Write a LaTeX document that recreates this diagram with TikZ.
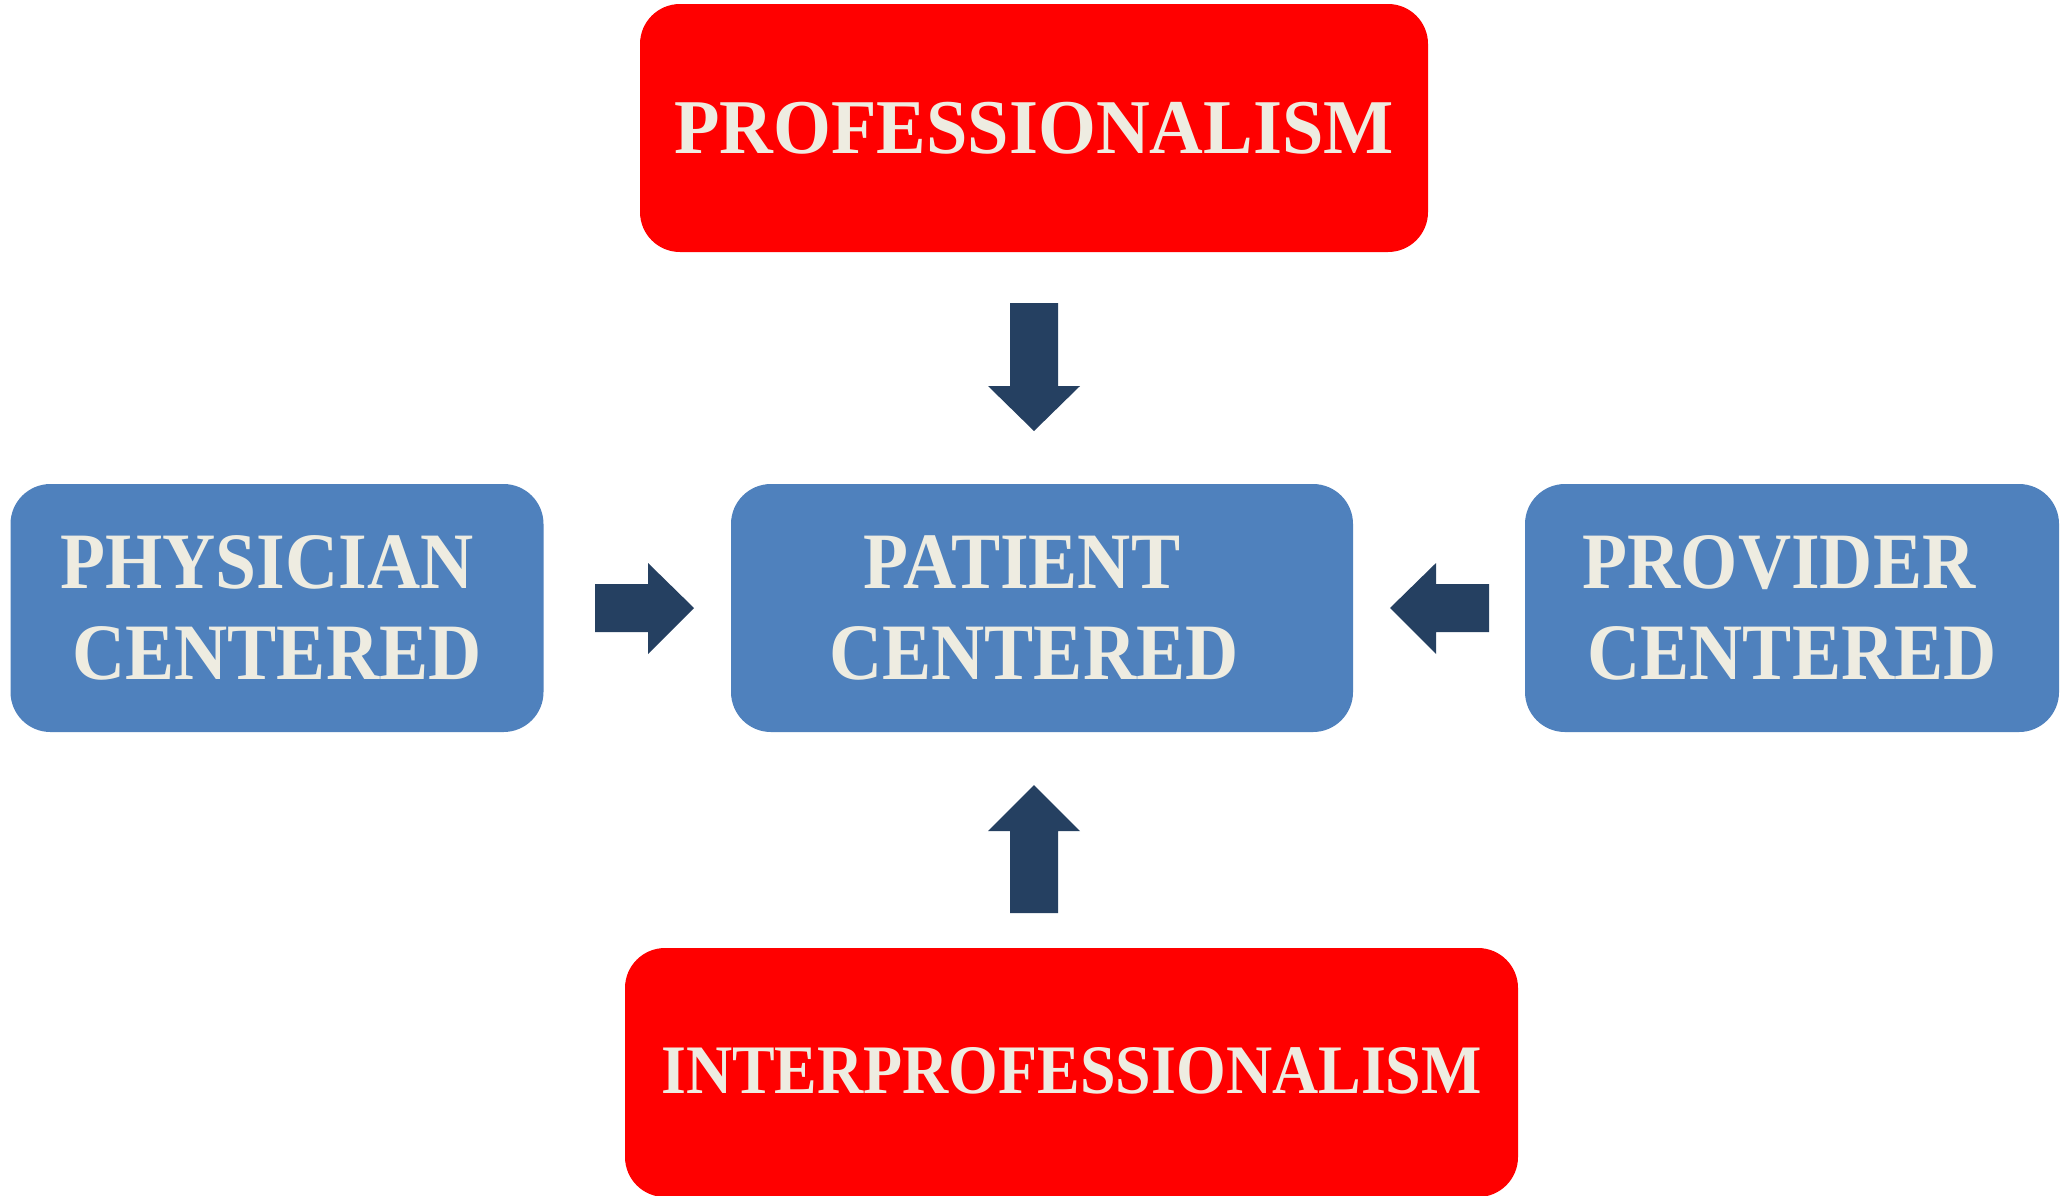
\documentclass[tikz,border=0pt]{standalone}
\usepackage{fontspec}
\setmainfont{Liberation Serif}
\definecolor{redc}{HTML}{FF0000}
\definecolor{bluec}{HTML}{4F81BD}
\definecolor{arrowc}{HTML}{254061}
\definecolor{textc}{HTML}{EEECE1}
\newcommand{\sq}[1]{\scalebox{0.92}[1]{#1}}
\tikzset{
  boxbase/.style={rounded corners=40pt, inner sep=0pt, align=center, text=textc},
  redbox/.style={boxbase, fill=redc},
  bluebox/.style={boxbase, fill=bluec, minimum width=533pt, minimum height=248pt,
     font=\bfseries\fontsize{80}{91}\selectfont},
  blockarrow/.style={fill=arrowc}
}
\begin{document}
\begin{tikzpicture}[x=1pt,y=-1pt]
\useasboundingbox[fill=white] (0,0) rectangle (2068,1195);
\node[redbox, minimum width=788pt, minimum height=248pt, font=\bfseries\fontsize{77.5}{88}\selectfont] (prof) at (1034,128) {\scalebox{0.96}[1]{PROFESSIONALISM}};
\node[bluebox] (phys) at (277,608) {\sq{PHYSICIAN}\hspace*{20pt}\\\sq{CENTERED}};
\node[bluebox, minimum width=622pt] (pat) at (1042,608) {\sq{PATIENT}\hspace*{40pt}\\\sq{CENTERED}\hspace*{16pt}};
\node[bluebox, minimum width=534pt] (prov) at (1792,608) {\sq{PROVIDER}\hspace*{26pt}\\\sq{CENTERED}};
\node[redbox, minimum width=893pt, minimum height=249pt, font=\bfseries\fontsize{69.5}{80}\selectfont] (inter) at (1071.5,1072.5) {\raisebox{5pt}{\sq{INTERPROFESSIONALISM}}};
% block arrows
\fill[blockarrow] (1010,303) -- (1058,303) -- (1058,386) -- (1080,386) -- (1034,431) -- (988,386) -- (1010,386) -- cycle;
\fill[blockarrow] (1010,913) -- (1058,913) -- (1058,831) -- (1080,831) -- (1034,785) -- (988,831) -- (1010,831) -- cycle;
\fill[blockarrow] (595,584) -- (648,584) -- (648,563) -- (694,608) -- (648,654) -- (648,632) -- (595,632) -- cycle;
\fill[blockarrow] (1489,584) -- (1436,584) -- (1436,563) -- (1390,608) -- (1436,654) -- (1436,632) -- (1489,632) -- cycle;
\end{tikzpicture}
\end{document}
